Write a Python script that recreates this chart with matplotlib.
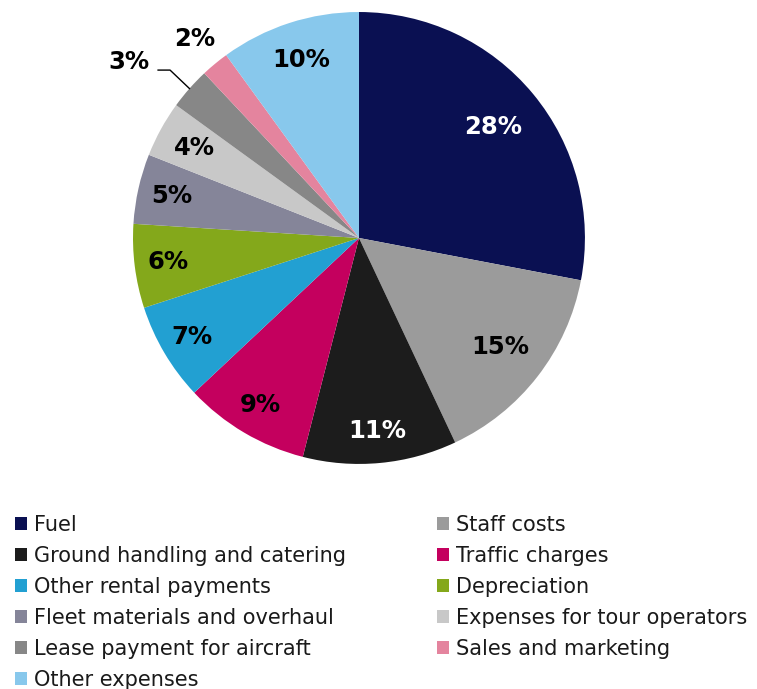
import matplotlib
matplotlib.use("Agg")
import matplotlib.pyplot as plt
from matplotlib.patches import Patch
import numpy as np

categories = ["Fuel", "Staff costs", "Ground handling and catering", "Traffic charges",
              "Other rental payments", "Depreciation", "Fleet materials and overhaul",
              "Expenses for tour operators", "Lease payment for aircraft",
              "Sales and marketing", "Other expenses"]
shares = [28, 15, 11, 9, 7, 6, 5, 4, 3, 2, 10]
colors = ["#0A1052", "#9B9B9B", "#1C1C1C", "#C4005E", "#22A0D2", "#84A81B",
          "#858599", "#C8C8C8", "#878787", "#E4849E", "#88C8EC"]
label_colors = ["white", "black", "white", "black", "black", "black",
                "black", "black", "black", "black", "black"]
label_radius = [0.77, 0.79, 0.86, 0.86, 0.86, 0.85, 0.85, 0.83, None, 1.14, 0.83]

plt.rcParams["font.family"] = ["DejaVu Sans"]

fig = plt.figure(figsize=(7.57, 6.89), dpi=100)
ax = fig.add_axes([0.1757, 0.3266, 0.597, 0.656])
wedges, _ = ax.pie(shares, colors=colors, startangle=90, counterclock=False,
                   radius=1.0, wedgeprops=dict(linewidth=0))
ax.set_xlim(-1, 1)
ax.set_ylim(-1, 1)
ax.set_aspect("equal")
ax.axis("off")

label_size = 17.5
for w, v, r, c in zip(wedges, shares, label_radius, label_colors):
    mid = np.deg2rad((w.theta1 + w.theta2) / 2)
    txt = f"{v}%"
    if r is None:
        # small slice: label outside with a leader line
        ex, ey = np.cos(mid) * 1.0, np.sin(mid) * 1.0
        ax.plot([ex, -0.836, -0.889], [ey, 0.743, 0.743], color="black",
                lw=1.0, clip_on=False)
        ax.text(-1.02, 0.78, txt, ha="center", va="center", fontsize=label_size,
                fontweight="bold", color=c, clip_on=False)
        continue
    ax.text(r * np.cos(mid), r * np.sin(mid), txt, ha="center", va="center",
            fontsize=label_size, fontweight="bold", color=c, clip_on=False)

handles = [Patch(facecolor=col, edgecolor="none") for col in colors]
left_idx = [0, 2, 4, 6, 8, 10]
right_idx = [1, 3, 5, 7, 9]
common = dict(frameon=False, fontsize=15, handlelength=0.58, handleheight=0.58,
              handletextpad=0.33, labelspacing=0.53, borderpad=0, borderaxespad=0,
              loc="upper left")
leg1 = fig.legend([handles[i] for i in left_idx], [categories[i] for i in left_idx],
                  bbox_to_anchor=(15 / 757, 1 - 515 / 689), **common)
leg2 = fig.legend([handles[i] for i in right_idx], [categories[i] for i in right_idx],
                  bbox_to_anchor=(437 / 757, 1 - 515 / 689), **common)
for leg in (leg1, leg2):
    for t in leg.get_texts():
        t.set_color("#1a1a1a")

fig.savefig("out.png", dpi=100)
